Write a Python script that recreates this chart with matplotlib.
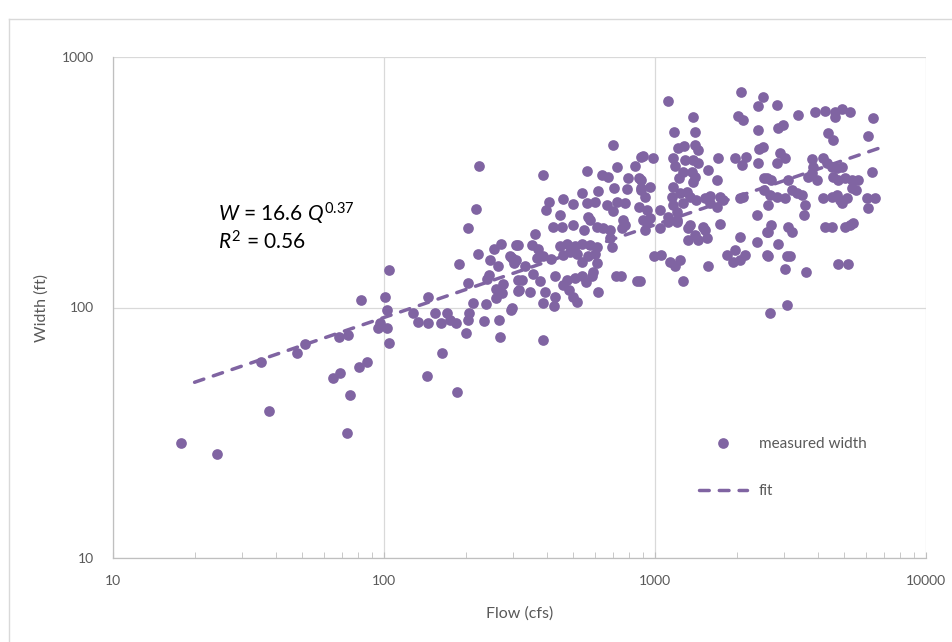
import numpy as np
import matplotlib
matplotlib.use("Agg")
import matplotlib.pyplot as plt
from matplotlib.lines import Line2D
from matplotlib.ticker import FixedLocator, FuncFormatter, LogLocator, NullLocator

# measured channel width vs. flow
flow = [17.8, 24.2, 37.6, 35.1, 47.7, 51, 68, 73.6, 64.9, 68.9, 74.8, 73, 80.9, 86.5, 95, 102.6,
        104, 82.2, 103, 97, 104, 101,
        225, 219, 205, 222, 189, 145, 128, 133, 145, 154, 162, 171, 175, 184, 200, 205, 206, 213,
        238, 234, 266, 268, 259, 275, 272, 244, 240, 259, 255, 270, 264, 246, 296, 301, 308, 295,
        312, 312, 204, 164, 144, 186,
        698, 386, 562, 635, 672, 726, 844, 901, 797, 875, 539, 618, 708, 791, 888, 407, 395, 459,
        497, 560, 601, 664, 721, 774, 446, 568, 576, 702, 764, 774, 753, 876, 905, 918, 420, 453,
        497, 547, 609, 645, 682, 361, 311, 351, 371, 446, 474, 507, 536, 576, 612, 682, 692, 292,
        308, 331, 366, 387, 415, 459, 485, 514, 536, 568, 601, 612, 592, 586, 356, 377, 322, 428,
        472, 507, 536, 459, 483, 499, 514, 556, 718, 749, 861, 316, 346, 393, 386, 424, 428, 617,
        296, 386,
        1117, 2075, 2512, 2406, 1384, 2028, 2117, 1177, 1405, 2406, 1218, 1282, 1405, 1445, 1714,
        1974, 2167, 2089, 2421, 2406, 891, 979, 1169, 1186, 1291, 1384, 1445, 1570, 1230, 1271,
        1364, 1405, 1384, 1698, 2535, 891, 959, 891, 918, 1169, 1151, 1236, 1309, 1346, 1422,
        1528, 1595, 1738, 1788, 2061, 2117, 2373, 2620, 2535, 1738, 1507, 1346, 1202, 1119, 1043,
        1169, 1271, 1202, 931, 959, 1688, 1595,
        931, 1043, 1119, 1202, 1327, 1405, 1528, 1552, 1327, 1445, 2061, 2373, 2584, 2584, 991,
        1048, 1135, 1186, 1236, 1570, 1271, 881, 1837, 1974, 1945, 2061, 2148, 2656,
        2826, 3362, 3890, 4235, 4613, 4884, 5245, 4613, 6394, 2972, 2851, 4356, 4548, 6101, 2893,
        2812, 3020, 2512, 3783, 3837, 4178, 4296, 4487, 4677, 4884, 4548, 4753, 5023, 5321, 5629,
        6310, 3681, 3954, 3783, 3105, 2584, 2683, 3194, 3334, 3479, 2656, 2812, 3020, 4178, 4487,
        4677, 4817, 5097, 4884, 5321, 5520, 6039, 6486, 6126, 3565, 3541, 2683, 3105, 4235, 4487,
        5023, 5383,
        2620, 3194, 5245, 2851, 2620, 3062, 3148, 3020, 3599, 4753, 5164, 3062]
width = [28.9, 26.1, 38.6, 60.6, 65.8, 71.5, 76.2, 77.7, 52.3, 54.7, 44.8, 31.6, 57.8, 60.6, 82.8, 97.7,
         72.1, 107, 82.8, 86.7, 141, 110,
         367, 247, 208, 164, 149, 110, 95.3, 87.8, 86.9, 95.3, 86.9, 95.3, 89.1, 86.6, 78.9, 89.1, 94.8, 104,
         103, 88.6, 89, 76.4, 109, 124, 114, 135, 130, 119, 171, 180, 146, 155, 157, 151, 177, 97.7,
         129, 116, 125, 65.8, 53.3, 46,
         445, 337, 352, 338, 333, 363, 367, 402, 328, 328, 287, 293, 301, 296, 299, 264, 245, 270,
         259, 262, 264, 257, 264, 261, 234, 230, 223, 243, 223, 213, 207, 252, 223, 204, 209, 209,
         213, 204, 210, 207, 204, 197, 178, 178, 172, 176, 179, 176, 179, 178, 175, 189, 175, 160,
         155, 146, 157, 160, 156, 162, 167, 164, 152, 160, 164, 150, 139, 133, 136, 127, 129, 134,
         129, 131, 134, 123, 117, 110, 105, 126, 133, 134, 127, 117, 115, 115, 104, 101, 110, 115,
         99.3, 74.2,
         667, 728, 695, 637, 578, 581, 561, 501, 501, 511, 432, 441, 445, 425, 394,
         394, 400, 371, 428, 379, 400, 394, 394, 367, 388, 388, 377, 354, 328, 348,
         348, 333, 318, 323, 328, 323, 302, 294, 277, 302, 277, 286, 290, 277, 269,
         273, 279, 277, 269, 273, 277, 234, 257, 294, 215, 210, 213, 223, 230, 245,
         257, 261, 241, 245, 227, 252, 261,
         217, 207, 220, 220, 207, 195, 204, 189, 186, 186, 191, 183, 201, 162, 160,
         162, 152, 146, 155, 146, 128, 128, 162, 170, 152, 155, 162, 95,
         643, 587, 601, 610, 605, 618, 601, 574, 569, 535, 519, 496, 466, 484, 413,
         377, 394, 438, 391, 365, 394, 377, 365, 360, 365, 333, 323, 328, 323, 323,
         348, 333, 323, 343, 323, 328, 323, 294, 286, 281, 281, 277, 273, 273, 277,
         281, 269, 273, 261, 299, 294, 273, 273, 249, 257, 234, 213, 210, 210, 210,
         210, 217,
         201, 201, 213, 180, 161, 161, 161, 143, 139, 149, 149, 102]

# power-law fit W = a Q^b
fit_a = 16.6
fit_b = 0.37
fit_q = [20, 7000]

purple = "#8064A2"
grey_txt = "#595959"
grid_c = "#D9D9D9"

plt.rcParams["font.family"] = ["Lato", "DejaVu Sans"]
plt.rcParams["mathtext.fontset"] = "custom"
plt.rcParams["mathtext.rm"] = "Lato"
plt.rcParams["mathtext.it"] = "Lato:italic"

W, H = 952, 642
fig = plt.figure(figsize=(W / 100, H / 100), dpi=100)
ax = fig.add_axes([113 / W, 84 / H, 813 / W, 501 / H])

q_fit = np.array(fit_q, dtype=float)
w_fit = fit_a * q_fit ** fit_b
fit_line, = ax.plot(q_fit, w_fit, color=purple, lw=2.5, dashes=(2.8, 2.9),
                    dash_capstyle="round", zorder=3, label="fit")
pts, = ax.plot(flow, width, "o", color=purple, ms=7.7, mew=0, zorder=2,
               label="measured width")

ax.set_xscale("log")
ax.set_yscale("log")
ax.set_xlim(10, 10000)
ax.set_ylim(10, 1000)

ax.xaxis.set_major_locator(FixedLocator([10, 100, 1000, 10000]))
ax.yaxis.set_major_locator(FixedLocator([10, 100, 1000]))
ax.xaxis.set_minor_locator(LogLocator(base=10, subs=np.arange(2, 10)))
ax.yaxis.set_minor_locator(NullLocator())
fmt = FuncFormatter(lambda v, p: "%d" % v)
ax.xaxis.set_major_formatter(fmt)
ax.yaxis.set_major_formatter(fmt)

ax.grid(True, which="major", color=grid_c, lw=0.9, zorder=0)
for s in ["top", "right"]:
    ax.spines[s].set_visible(False)
for s in ["left", "bottom"]:
    ax.spines[s].set_color("#BFBFBF")
    ax.spines[s].set_linewidth(0.9)

ax.tick_params(axis="x", which="both", direction="in", color="#BFBFBF", length=4,
               labelsize=10, labelcolor=grey_txt, pad=12)
ax.tick_params(axis="y", which="both", length=0, labelsize=10, labelcolor=grey_txt, pad=14)

ax.set_xlabel("Flow (cfs)", fontsize=11.5, color=grey_txt, labelpad=14)
ax.set_ylabel("Width (ft)", fontsize=11.5, color=grey_txt, labelpad=9)

# equation block, placed in pixels from the top-left
ax.text(218, H - 214, r"$W$ = 16.6 $Q^{0.37}$", transform=None, fontsize=15,
        va="center", ha="left")
ax.text(218, H - 242, r"$R^2$ = 0.56", transform=None, fontsize=15,
        va="center", ha="left")

leg = ax.legend(handles=[pts, fit_line], loc="upper left", bbox_to_anchor=(0.712, 0.256),
                frameon=False, fontsize=11, borderpad=0, handlelength=3.1,
                handletextpad=0.8, labelspacing=2.15, numpoints=1)
for t in leg.get_texts():
    t.set_color(grey_txt)

# chart border
fig.add_artist(Line2D([9 / W, 9 / W], [0, 1 - 19 / H], color=grid_c, lw=1))
fig.add_artist(Line2D([9 / W, 1], [1 - 19 / H, 1 - 19 / H], color=grid_c, lw=1))

fig.savefig("out.png", dpi=100)
